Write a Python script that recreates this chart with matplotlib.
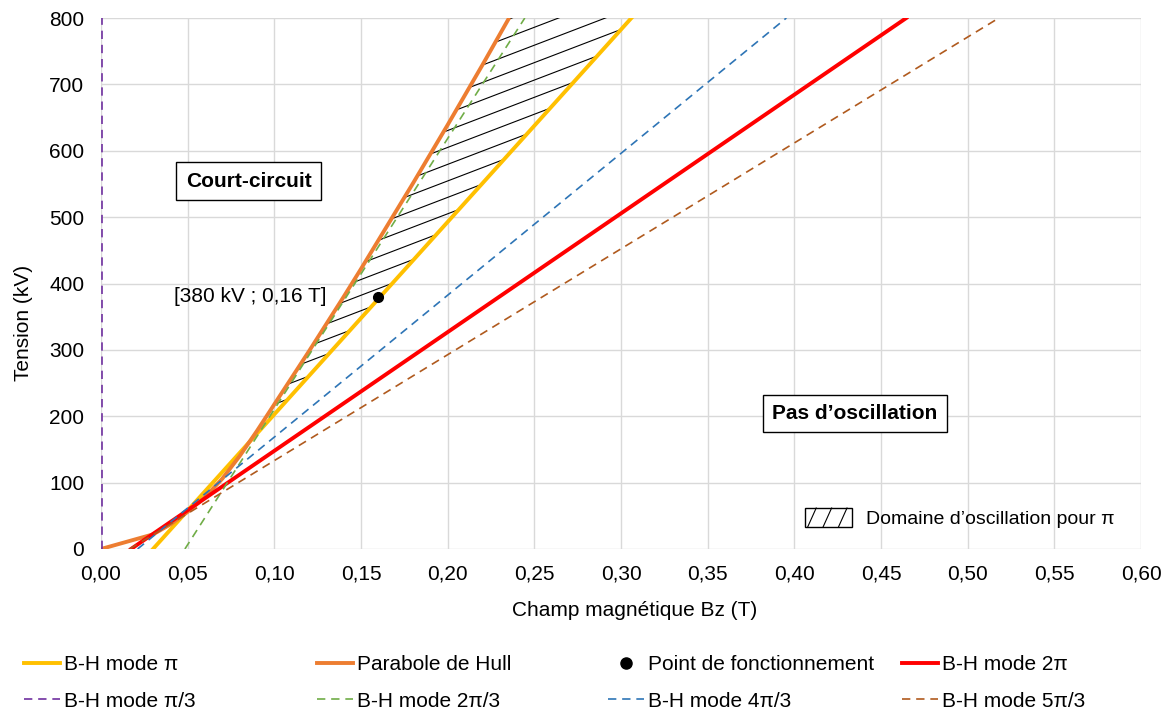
import numpy as np
import matplotlib
matplotlib.use("Agg")
import matplotlib.pyplot as plt
from matplotlib.lines import Line2D
from matplotlib.patches import Patch, Rectangle
from matplotlib.legend_handler import HandlerBase

plt.rcParams['font.family'] = ['Liberation Sans', 'DejaVu Sans']
plt.rcParams['font.size'] = 15

# --- donnees ---
hull_B = [0, 0.03, 0.04, 0.05, 0.06, 0.07, 0.08, 0.09, 0.10, 0.11, 0.12, 0.13, 0.14,
          0.15, 0.16, 0.17, 0.18, 0.19, 0.20, 0.21, 0.22, 0.23, 0.235]
hull_V = [0, 22, 37, 56, 78, 106, 140, 178, 218, 258, 298, 339, 380,
          422, 465, 508, 551, 595, 639, 684, 729, 775, 798]

ends_V = [0, 800]
mode_pi_B = [0.030, 0.306]
mode_2pi_B = [0.0173, 0.4646]
mode_pi3_B = [0.0004, 0.0004]
mode_2pi3_B = [0.0484, 0.2445]
mode_4pi3_B = [0.0211, 0.3954]
mode_5pi3_B = [0.0165, 0.518]

point_B = [0.16]
point_V = [380]

x_ticks = np.arange(0, 0.601, 0.05)
y_ticks = np.arange(0, 801, 100)

C_PI, C_HULL, C_2PI = '#FFC000', '#ED7D31', '#FF0000'
C_PI3, C_2PI3, C_4PI3, C_5PI3 = '#7030A0', '#70AD47', '#2E75B6', '#B05A1E'
DASH = (5, 3.5)


class HatchBox(HandlerBase):
    # petit rectangle avec trois barres obliques, comme dans Excel
    def create_artists(self, legend, orig, xd, yd, w, h, fontsize, trans):
        x0, y0 = -xd, -yd
        rect = Rectangle((x0, y0), w, h, fc='white', ec='black', lw=1, transform=trans)
        arts = [rect]
        for i in range(3):
            xa = x0 + w * (0.06 + 0.33 * i)
            xb = x0 + w * (0.24 + 0.33 * i)
            arts.append(Line2D([xa, xb], [y0, y0 + h], color='black', lw=0.8, transform=trans))
        return arts


fig = plt.figure(figsize=(11.73, 7.13), dpi=100)
ax = fig.add_axes([101 / 1173, 1 - 549 / 713, 1040 / 1173, 531 / 713])

# hachures du domaine d'oscillation (entre Hull et mode pi)
m_pi = (ends_V[1] - ends_V[0]) / (mode_pi_B[1] - mode_pi_B[0])
s = 1000.0
for bl in np.arange(0.100, 0.2351, 0.0075):
    vl = np.interp(bl, hull_B, hull_V)
    br = (vl - s * bl + m_pi * mode_pi_B[0]) / (m_pi - s)
    vr = vl + s * (br - bl)
    ax.plot([bl, br], [vl, vr], color='black', lw=0.8, zorder=2)

ax.plot(mode_pi_B, ends_V, color=C_PI, lw=2.8, zorder=3)
ax.plot(hull_B, hull_V, color=C_HULL, lw=2.8, zorder=3)
ax.plot(point_B, point_V, 'o', color='black', ms=7, zorder=6)
ax.plot(mode_2pi_B, ends_V, color=C_2PI, lw=2.8, zorder=4)

ax.plot(mode_pi3_B, ends_V, color=C_PI3, lw=1.2, dashes=DASH, zorder=5)
ax.plot(mode_2pi3_B, ends_V, color=C_2PI3, lw=1.2, dashes=DASH, zorder=5)
ax.plot(mode_4pi3_B, ends_V, color=C_4PI3, lw=1.2, dashes=DASH, zorder=5)
ax.plot(mode_5pi3_B, ends_V, color=C_5PI3, lw=1.2, dashes=DASH, zorder=5)

ax.set_xlim(0, 0.60)
ax.set_ylim(0, 800)
ax.set_xticks(x_ticks)
ax.set_yticks(y_ticks)
ax.set_xticklabels([f"{v:.2f}".replace('.', ',') for v in x_ticks])
ax.set_yticklabels([f"{int(v)}" for v in y_ticks])
ax.tick_params(length=0)
ax.tick_params(axis='x', pad=11)
ax.tick_params(axis='y', pad=12)
for sp in ax.spines.values():
    sp.set_visible(False)
ax.grid(True, color='#D9D9D9', lw=1)
ax.set_axisbelow(True)

ax.set_xlabel('Champ magnétique Bz (T)')
ax.set_ylabel('Tension (kV)')
ax.xaxis.set_label_coords((635 - 101) / 1040, (549 - 601) / 531)
ax.yaxis.set_label_coords((33 - 101) / 1040, (549 - 323) / 531)

ax.annotate('[380 kV ; 0,16 T]', xy=(point_B[0], point_V[0]), xytext=(-37, 0),
            textcoords='offset points', ha='right', va='center')

box = dict(boxstyle='square,pad=0.45', fc='white', ec='black', lw=1)
ax.text(0.0851, 554, 'Court-circuit', fontweight='bold', ha='center', va='center',
        bbox=box, zorder=7)
ax.text(0.4348, 204, 'Pas d\u2019oscillation', fontweight='bold', ha='center', va='center',
        bbox=box, zorder=7)

hatch_patch = Patch(label='Domaine d\u2019oscillation pour \u03c0')
ax.legend(handles=[hatch_patch], handler_map={Patch: HatchBox()}, loc='center left',
          bbox_to_anchor=((805 - 101) / 1040, 1 - (518 - 18) / 531),
          frameon=False, borderpad=0, borderaxespad=0, fontsize=14,
          handlelength=2.4, handleheight=1.1, handletextpad=0.75)

# legende du bas, 4 colonnes
h_pi = Line2D([], [], color=C_PI, lw=2.8)
h_hull = Line2D([], [], color=C_HULL, lw=2.8)
h_pt = Line2D([], [], color='black', marker='o', ls='none', ms=8)
h_2pi = Line2D([], [], color=C_2PI, lw=2.8)
h_pi3 = Line2D([], [], color=C_PI3, lw=1.2, dashes=DASH)
h_2pi3 = Line2D([], [], color=C_2PI3, lw=1.2, dashes=DASH)
h_4pi3 = Line2D([], [], color=C_4PI3, lw=1.2, dashes=DASH)
h_5pi3 = Line2D([], [], color=C_5PI3, lw=1.2, dashes=DASH)

cols = [
    (24, [h_pi, h_pi3], ['B-H mode \u03c0', 'B-H mode \u03c0/3']),
    (317, [h_hull, h_2pi3], ['Parabole de Hull', 'B-H mode 2\u03c0/3']),
    (608, [h_pt, h_4pi3], ['Point de fonctionnement', 'B-H mode 4\u03c0/3']),
    (902, [h_2pi, h_5pi3], ['B-H mode 2\u03c0', 'B-H mode 5\u03c0/3']),
]
for xpx, hs, labs in cols:
    fig.legend(hs, labs, loc='upper left', bbox_to_anchor=(xpx / 1173, 1 - 655 / 713),
               frameon=False, borderpad=0, borderaxespad=0, handlelength=1.75,
               handletextpad=0.15, labelspacing=0.85, numpoints=1)

fig.savefig('out.png', dpi=100)
